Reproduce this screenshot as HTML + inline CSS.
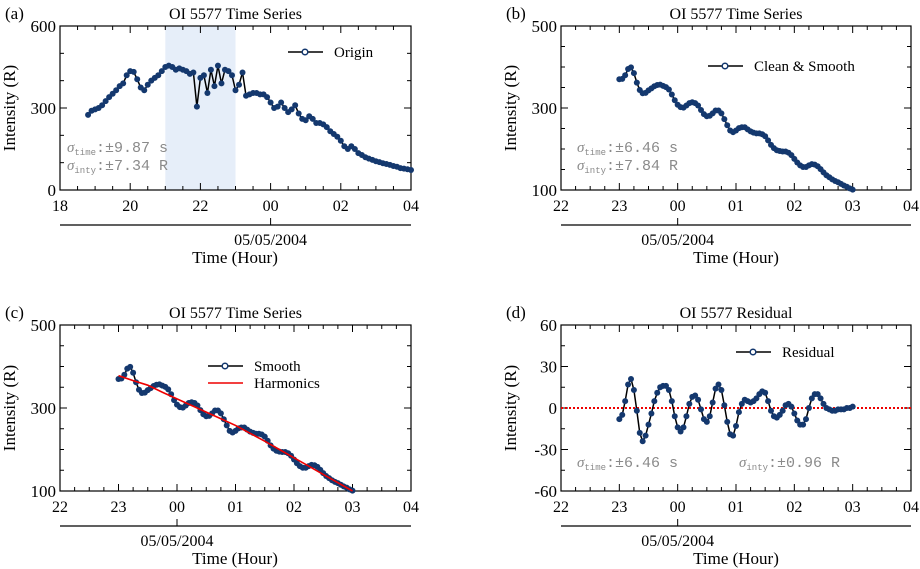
<!DOCTYPE html>
<html><head><meta charset="utf-8"><style>
body{margin:0;background:#fff;}
svg{display:block;font-family:"Liberation Serif",serif;}
.mono{font-family:"Liberation Mono",monospace;fill:#8a8a8a;font-size:15px;}
</style></head><body>
<svg id="fig" width="920" height="569" viewBox="0 0 920 569"></svg>
<script>
// Panel (a) origin: start 18.8 h, step 0.1 h
const originStart = 18.8, originStep = 0.1;
const originValues = [275,290,295,300,310,325,340,352,365,380,390,420,435,432,405,375,365,385,400,410,420,435,450,455,450,440,445,440,435,425,430,305,410,420,355,440,380,455,390,440,435,420,365,385,430,345,350,355,355,350,350,340,320,300,305,320,300,285,295,310,280,260,255,270,260,245,245,240,230,215,205,195,180,160,150,160,150,135,128,120,115,110,105,102,98,95,92,88,85,80,78,76,73];
// Panels (b),(c),(d): start 23.0 h, step 0.05 h
const smoothStart = 23.0, smoothStep = 0.05;
const smoothValues = [370,371,380,395,399,385,362,344,336,337,343,348,353,356,357,354,351,345,333,319,308,302,301,306,312,314,312,306,295,285,280,281,287,294,294,287,273,258,245,241,245,251,253,253,248,243,240,238,238,236,231,221,210,202,197,195,194,194,191,185,176,167,160,156,156,160,163,162,158,151,143,136,131,126,122,119,115,111,108,104,101];
const residualValues = [-8,-5,5,17,21,13,-2,-18,-24,-20,-12,-4,5,11,15,16,16,13,5,-6,-14,-17,-14,-6,3,8,9,6,-1,-8,-10,-6,4,14,17,13,2,-10,-19,-20,-13,-3,3,6,5,4,5,7,10,12,11,5,-2,-6,-7,-5,-2,2,3,1,-4,-9,-12,-12,-8,0,7,10,10,7,3,0,-1,-2,-2,-1,-1,-1,0,0,1];
// Harmonics fit: start 23.0 h, step 0.25 h
const harmStart = 23.0, harmStep = 0.25;
const harmValues = [378,366,355,338,322,306,290,274,258,239,220,200,180,160,140,120,100];
const ticksA = ["18","20","22","00","02","04"];
const ticksB = ["22","23","00","01","02","03","04"];

const NS="http://www.w3.org/2000/svg";
const svg=document.getElementById('fig');
function mk(tag,attrs,parent,text){const e=document.createElementNS(NS,tag);for(const k in attrs)e.setAttribute(k,attrs[k]);if(text!==undefined)e.textContent=text;(parent||svg).appendChild(e);return e;}

function panel(o){
  const g=mk('g',{});
  
  
  const X=h=>o.x0+(h-o.h0)/(o.h1-o.h0)*(o.x1-o.x0);
  const Y=v=>o.y1-(v-o.v0)/(o.v1-o.v0)*(o.y1-o.y0);
  o.X=X;o.Y=Y;
  if(o.shade){const r=mk('rect',{x:X(o.shade[0]),y:o.y0,width:X(o.shade[1])-X(o.shade[0]),height:o.y1-o.y0,fill:'#e6eef9'},g);
    
    }
  for(let h=o.h0;h<=o.h1+1e-9;h+=o.hMinor){
    const maj=Math.abs(Math.round((h-o.h0)/o.hMajor)*o.hMajor-(h-o.h0))<1e-6;const L=maj?7:4;
    mk('line',{x1:X(h),x2:X(h),y1:o.y1,y2:o.y1-L,stroke:'#000'},g);
    mk('line',{x1:X(h),x2:X(h),y1:o.y0,y2:o.y0+L,stroke:'#000'},g);
  }
  o.xlabels.forEach((t,i)=>{const l=mk('text',{x:X(o.h0+i*o.hMajor),y:o.y1+21,'text-anchor':'middle','font-size':16},g,t);
    
    });
  for(let v=o.v0;v<=o.v1+1e-9;v+=o.vMinor){
    const maj=Math.abs(((v-o.v0)/o.vMajor)-Math.round((v-o.v0)/o.vMajor))<1e-6;const L=maj?7:4;
    mk('line',{x1:o.x0,x2:o.x0+L,y1:Y(v),y2:Y(v),stroke:'#000'},g);
    mk('line',{x1:o.x1,x2:o.x1-L,y1:Y(v),y2:Y(v),stroke:'#000'},g);
  }
  for(let v=o.v0;v<=o.v1+1e-9;v+=o.vMajor){const l=mk('text',{x:o.x0-4,y:Y(v)+6,'text-anchor':'end','font-size':17},g,String(v));
    
    }
  mk('rect',{x:o.x0,y:o.y0,width:o.x1-o.x0,height:o.y1-o.y0,fill:'none',stroke:'#000','stroke-width':1.2},g);
  const t=mk('text',{x:(o.x0+o.x1)/2,y:o.y0-7,'text-anchor':'middle','font-size':16},g,o.title);
  
  
  const lb=mk('text',{x:o.x0-55,y:o.y0-7,'font-size':17},g,o.label);
  
  
  const yt=mk('text',{x:0,y:0,'text-anchor':'middle','font-size':17,transform:`translate(${o.x0-45},${(o.y0+o.y1)/2}) rotate(-90)`},g,'Intensity (R)');
  
  
  const da=o.y1+35;
  mk('line',{x1:o.x0,x2:o.x1,y1:da,y2:da,stroke:'#000','stroke-width':1.2},g);
  mk('line',{x1:X(o.dateH),x2:X(o.dateH),y1:da,y2:da-7,stroke:'#000'},g);
  const dt=mk('text',{x:X(o.dateH),y:da+20,'text-anchor':'middle','font-size':16},g,'05/05/2004');
  
  
  const xt=mk('text',{x:o.titleX,y:da+38,'text-anchor':'middle','font-size':17},g,'Time (Hour)');
  
  
  o.g=g;return o;
}
function series(o,start,step,vals,name){
  const pts=vals.map((v,i)=>[o.X(start+i*step),o.Y(v)]);
  const p=mk('polyline',{points:pts.map(p=>p.join(',')).join(' '),fill:'none',stroke:'#000','stroke-width':1.5},o.g);
  
  
  pts.forEach(q=>{const c=mk('circle',{cx:q[0],cy:q[1],r:3,fill:'#14386e'},o.g);
    
    });
}
function legend(o,x,y,text,kind){
  const g=mk('g',{},o.g);
  
  
  if(kind==='red'){mk('line',{x1:x,x2:x+35,y1:y,y2:y,stroke:'#e00','stroke-width':1.5},g);}
  else{mk('line',{x1:x,x2:x+35,y1:y,y2:y,stroke:'#000','stroke-width':1.5},g);mk('circle',{cx:x+17,cy:y,r:2.8,fill:'#fff',stroke:'#14386e','stroke-width':1.5},g);}
  mk('text',{x:x+46,y:y+5,'font-size':15},g,text);
}
function sigma(o,x,y,sub,val){
  const t=mk('text',{x:x,y:y,class:'mono'},o.g);
  
  
  mk('tspan',{'font-family':'Liberation Serif','font-style':'italic'},t,'σ');
  mk('tspan',{'font-size':9,dy:3},t,sub);
  mk('tspan',{dy:-3},t,':'+val);
}

const A=panel({name:'panel-a',x0:60,x1:411,y0:26,y1:190,h0:18,h1:28,hMajor:2,hMinor:0.5,v0:0,v1:600,vMajor:300,vMinor:100,xlabels:ticksA,title:'OI 5577 Time Series',label:'(a)',dateH:24,titleX:235,shade:[21,23]});
series(A,originStart,originStep,originValues,'origin');
legend(A,288,52,'Origin');
sigma(A,67,152,'time','±9.87 s');sigma(A,67,170,'inty','±7.34 R');

const B=panel({name:'panel-b',x0:561,x1:911,y0:26,y1:190,h0:22,h1:28,hMajor:1,hMinor:0.25,v0:100,v1:500,vMajor:200,vMinor:50,xlabels:ticksB,title:'OI 5577 Time Series',label:'(b)',dateH:24,titleX:736});
series(B,smoothStart,smoothStep,smoothValues,'smooth');
legend(B,708,66,'Clean & Smooth');
sigma(B,577,152,'time','±6.46 s');sigma(B,577,170,'inty','±7.84 R');

const C=panel({name:'panel-c',x0:60,x1:411,y0:325,y1:491,h0:22,h1:28,hMajor:1,hMinor:0.25,v0:100,v1:500,vMajor:200,vMinor:50,xlabels:ticksB,title:'OI 5577 Time Series',label:'(c)',dateH:24,titleX:235});
series(C,smoothStart,smoothStep,smoothValues,'smooth');
const hp=harmValues.map((v,i)=>[C.X(harmStart+i*harmStep),C.Y(v)].join(',')).join(' ');
const hl=mk('polyline',{points:hp,fill:'none',stroke:'#e00','stroke-width':1.6},C.g);


legend(C,208,366,'Smooth');legend(C,208,383,'Harmonics','red');

const D=panel({name:'panel-d',x0:561,x1:911,y0:325,y1:491,h0:22,h1:28,hMajor:1,hMinor:0.25,v0:-60,v1:60,vMajor:30,vMinor:15,xlabels:ticksB,title:'OI 5577 Residual',label:'(d)',dateH:24,titleX:736});
const zl=mk('line',{x1:561,x2:911,y1:D.Y(0),y2:D.Y(0),stroke:'#e00','stroke-width':2,'stroke-dasharray':'2,2'},D.g);


series(D,smoothStart,smoothStep,residualValues,'residual');
legend(D,736,352,'Residual');
sigma(D,577,467,'time','±6.46 s');sigma(D,739,467,'inty','±0.96 R');
</script>
</body></html>
